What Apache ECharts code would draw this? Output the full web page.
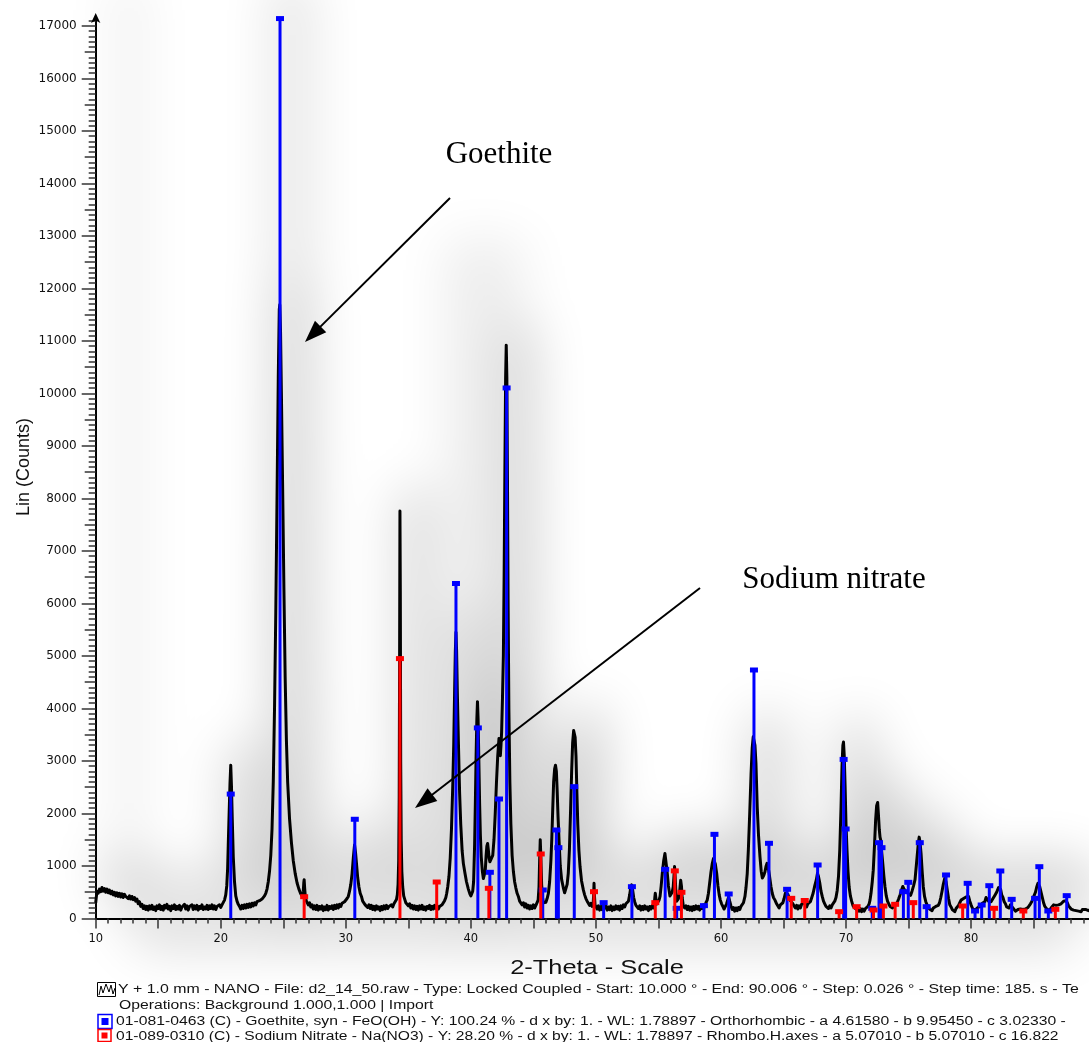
<!DOCTYPE html>
<html>
<head>
<meta charset="utf-8">
<script src="https://cdn.jsdelivr.net/npm/echarts@6/dist/echarts.min.js"></script>
<style>
  html, body { margin: 0; padding: 0; background: #ffffff; overflow: hidden; }
  #stage { position: relative; width: 1089px; height: 1042px; overflow: hidden; background: #ffffff; }
  #haze { position: absolute; left: 0; top: 0; width: 1089px; height: 1042px;
          filter: blur(26px); opacity: 0.2; transform: translate(14px, -22px); }
  #chart { position: absolute; left: 0; top: 0; width: 1089px; height: 1042px; }
</style>
</head>
<body>
<div id="stage">
  <div id="haze"></div>
  <div id="chart"></div>
</div>
<script>
// Measured XRD scan: [2-theta (deg), counts]
const profile = [
  [10.0,300],[10.1,520],[10.2,480],[10.3,560],[10.4,510],[10.5,590],[10.6,520],[10.7,570],[10.8,500],[10.9,560],
  [11.0,490],[11.1,540],[11.2,470],[11.3,520],[11.4,450],[11.5,500],[11.6,430],[11.7,490],[11.8,420],[11.9,480],
  [12.0,410],[12.1,470],[12.2,400],[12.3,460],[12.4,420],[12.5,440],[12.6,380],[12.7,430],[12.8,370],[12.9,420],
  [13.0,360],[13.1,400],[13.2,330],[13.3,370],[13.4,280],[13.5,320],[13.6,230],[13.7,270],[13.8,190],[13.9,240],
  [14.0,170],[14.1,230],[14.2,160],[14.3,240],[14.4,180],[14.5,250],[14.6,170],[14.7,220],[14.8,150],[14.9,240],
  [15.0,190],[15.1,260],[15.2,170],[15.3,230],[15.4,160],[15.5,250],[15.6,200],[15.7,270],[15.8,180],[15.9,230],
  [16.0,150],[16.1,240],[16.2,190],[16.3,260],[16.4,170],[16.5,230],[16.6,180],[16.7,250],[16.8,160],[16.9,220],
  [17.0,190],[17.1,270],[17.2,180],[17.3,240],[17.4,160],[17.5,230],[17.6,200],[17.7,260],[17.8,170],[17.9,240],
  [18.0,180],[18.1,250],[18.2,160],[18.3,230],[18.4,190],[18.5,260],[18.6,170],[18.7,220],[18.8,180],[18.9,250],
  [19.0,170],[19.1,240],[19.2,190],[19.3,260],[19.4,180],[19.5,240],[19.6,170],[19.7,230],[19.8,200],[19.9,260],
  [20.0,210],[20.1,260],[20.2,290],[20.3,350],[20.4,450],[20.48,620],[20.55,950],[20.6,1400],[20.67,2000],[20.74,2580],
  [20.8,2920],[20.86,2500],[20.92,1900],[21.0,1180],[21.1,700],[21.2,430],[21.3,330],[21.4,270],[21.5,230],
  [21.6,180],[21.7,250],[21.8,190],[21.9,260],[22.0,200],[22.1,270],[22.2,210],[22.3,280],[22.4,220],[22.5,290],
  [22.6,240],[22.7,300],[22.8,260],[22.9,320],[23.0,290],[23.1,340],[23.2,320],[23.3,370],[23.4,380],[23.5,430],
  [23.6,480],[23.7,560],[23.8,700],[23.9,900],[24.0,1200],[24.1,1700],[24.2,2600],[24.3,4000],[24.4,5800],[24.5,8000],
  [24.6,10300],[24.68,11600],[24.72,11690],[24.78,11200],[24.85,10000],[24.95,8200],[25.05,6300],[25.15,4600],
  [25.25,3400],[25.35,2600],[25.5,1900],[25.65,1450],[25.8,1100],[25.95,860],[26.1,680],[26.25,560],[26.4,470],
  [26.52,420],[26.6,520],[26.64,680],[26.67,740],[26.71,580],[26.77,400],[26.85,330],[26.95,320],
  [27.0,260],[27.1,300],[27.2,220],[27.3,260],[27.4,180],[27.5,240],[27.6,170],[27.7,250],[27.8,160],[27.9,230],
  [28.0,180],[28.1,240],[28.2,150],[28.3,220],[28.4,170],[28.5,250],[28.6,160],[28.7,230],[28.8,190],[28.9,240],
  [29.0,170],[29.1,250],[29.2,190],[29.3,260],[29.4,200],[29.5,270],[29.6,230],[29.7,290],[29.8,260],[29.9,320],
  [30.0,300],[30.1,380],[30.2,420],[30.3,520],[30.4,650],[30.5,850],[30.6,1150],[30.7,1400],[30.78,1250],[30.87,1000],
  [30.95,780],[31.05,600],[31.15,480],[31.25,420],[31.35,330],[31.45,350],[31.55,260],[31.65,290],[31.75,210],[31.85,260],
  [31.95,190],[32.05,250],[32.15,170],[32.25,230],[32.35,160],[32.45,240],[32.55,180],[32.65,220],[32.75,150],[32.85,230],
  [32.95,170],[33.05,240],[33.15,180],[33.25,250],[33.35,190],[33.45,230],[33.55,200],[33.65,260],[33.75,220],[33.85,280],
  [33.95,270],[34.05,360],[34.12,450],[34.18,650],[34.23,1100],[34.27,2300],[34.3,4800],[34.33,7760],[34.36,6200],
  [34.39,3000],[34.43,1500],[34.48,900],[34.55,600],[34.63,430],[34.72,360],[34.8,300],[34.9,320],[35.0,240],
  [35.1,280],[35.2,200],[35.3,250],[35.4,180],[35.5,240],[35.6,170],[35.7,230],[35.8,160],[35.9,240],[36.0,180],
  [36.1,250],[36.2,170],[36.3,220],[36.4,160],[36.5,230],[36.6,190],[36.7,250],[36.8,170],[36.9,230],[37.0,180],
  [37.1,250],[37.2,190],[37.3,240],[37.4,180],[37.5,230],[37.6,210],[37.7,260],[37.8,270],[37.9,340],[38.0,400],
  [38.07,480],[38.15,600],[38.25,800],[38.35,1150],[38.45,1700],[38.55,2500],[38.63,3300],[38.7,4300],[38.76,5100],
  [38.81,5450],[38.86,5100],[38.92,4300],[39.0,3400],[39.1,2400],[39.19,1800],[39.3,1300],[39.4,1050],[39.53,860],
  [39.65,700],[39.8,560],[39.92,470],[40.0,430],[40.07,420],[40.15,520],[40.22,700],[40.3,1400],[40.36,2200],
  [40.42,3100],[40.48,3800],[40.53,4130],[40.58,3800],[40.64,3000],[40.7,2200],[40.76,1600],[40.83,1180],[40.92,900],
  [41.0,760],[41.07,740],[41.15,900],[41.22,1200],[41.28,1380],[41.34,1430],[41.4,1300],[41.46,1150],[41.52,1080],
  [41.6,1060],[41.67,1050],[41.75,1200],[41.85,1500],[41.95,2000],[42.05,2600],[42.15,3100],[42.25,3430],[42.31,3350],
  [42.36,3100],[42.41,3300],[42.46,3550],[42.53,4200],[42.6,5000],[42.66,6500],[42.72,8500],[42.78,10300],[42.83,10920],
  [42.88,10300],[42.93,8300],[42.98,6000],[43.04,4000],[43.12,2600],[43.2,1800],[43.3,1200],[43.4,900],[43.5,700],
  [43.6,580],[43.7,480],[43.8,420],[43.9,330],[44.0,350],[44.1,260],[44.2,300],[44.3,220],[44.4,280],[44.5,200],
  [44.6,250],[44.7,180],[44.8,240],[44.9,190],[45.0,260],[45.1,200],[45.2,250],[45.3,240],[45.38,350],[45.45,600],
  [45.5,1100],[45.55,1500],[45.6,1150],[45.66,650],[45.73,400],[45.8,300],[45.9,330],[46.0,310],[46.1,380],[46.2,480],
  [46.3,700],[46.4,1100],[46.47,1500],[46.55,2100],[46.62,2600],[46.7,2850],[46.77,2920],[46.84,2800],[46.9,2450],
  [46.97,1950],[47.05,1500],[47.15,1000],[47.26,740],[47.4,580],[47.5,490],[47.6,520],[47.7,650],[47.79,860],
  [47.88,1300],[47.98,2100],[48.06,2800],[48.14,3350],[48.22,3580],[48.28,3590],[48.34,3450],[48.41,3080],[48.48,2400],
  [48.55,1800],[48.64,1300],[48.73,990],[48.85,720],[49.0,540],[49.1,450],[49.2,380],[49.3,330],[49.4,300],[49.5,250],
  [49.6,290],[49.7,230],[49.78,280],[49.82,450],[49.85,670],[49.88,450],[49.93,260],[50.0,230],
  [50.1,180],[50.2,240],[50.3,160],[50.4,230],[50.5,170],[50.6,260],[50.7,200],[50.8,240],[50.9,160],[51.0,220],
  [51.1,170],[51.2,240],[51.3,150],[51.4,220],[51.5,170],[51.6,240],[51.7,180],[51.8,230],[51.9,160],[52.0,240],
  [52.1,190],[52.2,260],[52.3,220],[52.4,280],[52.5,260],[52.6,330],[52.7,450],[52.78,580],[52.86,640],[52.94,540],
  [53.02,400],[53.1,320],[53.2,250],[53.3,280],[53.4,190],[53.5,240],[53.6,160],[53.7,230],[53.8,170],[53.9,240],
  [54.0,180],[54.1,220],[54.2,150],[54.3,230],[54.4,180],[54.5,240],[54.6,200],[54.67,280],[54.72,420],[54.75,480],
  [54.79,400],[54.85,270],[54.95,300],[55.05,350],[55.13,420],[55.22,620],[55.31,860],[55.42,1100],[55.52,1240],
  [55.6,1080],[55.71,860],[55.8,620],[55.92,430],[56.0,420],[56.1,500],[56.18,600],[56.24,800],[56.29,990],[56.34,800],
  [56.4,480],[56.46,330],[56.52,300],[56.6,380],[56.7,520],[56.78,730],[56.84,620],[56.9,400],[56.99,240],
  [57.1,200],[57.2,240],[57.3,170],[57.4,230],[57.5,160],[57.6,220],[57.7,150],[57.8,230],[57.9,170],[58.0,240],
  [58.1,180],[58.2,230],[58.3,160],[58.4,240],[58.5,190],[58.6,260],[58.7,220],[58.8,300],[58.9,350],[59.0,480],
  [59.1,680],[59.2,880],[59.3,1040],[59.4,1140],[59.47,1150],[59.55,1040],[59.66,860],[59.76,620],[59.86,450],[59.95,350],
  [60.05,280],[60.15,230],[60.25,180],[60.35,200],[60.45,280],[60.55,360],[60.62,410],[60.7,330],[60.8,240],[60.9,170],
  [61.0,210],[61.1,140],[61.2,200],[61.3,150],[61.4,210],[61.5,170],[61.6,230],[61.7,250],[61.8,300],[61.92,420],
  [62.0,580],[62.1,850],[62.19,1300],[62.3,2000],[62.41,2770],[62.5,3250],[62.58,3460],[62.65,3480],[62.72,3300],
  [62.8,2950],[62.9,2130],[63.0,1600],[63.12,1180],[63.22,900],[63.31,770],[63.42,820],[63.52,890],[63.6,990],
  [63.68,1050],[63.76,1000],[63.86,850],[64.0,610],[64.1,480],[64.2,400],[64.32,350],[64.45,280],[64.55,250],[64.65,200],
  [64.75,260],[64.85,230],[64.95,300],[65.05,380],[65.15,480],[65.25,510],[65.35,460],[65.45,400],[65.55,340],[65.65,360],
  [65.75,280],[65.85,240],[65.95,200],[66.05,250],[66.15,180],[66.25,240],[66.35,200],[66.45,270],[66.55,240],[66.65,300],
  [66.75,270],[66.85,220],[66.95,280],[67.05,260],[67.15,320],[67.25,390],[67.37,480],[67.5,620],[67.63,740],[67.72,860],
  [67.8,800],[67.9,680],[68.0,520],[68.1,420],[68.2,330],[68.3,280],[68.4,230],[68.5,250],[68.6,190],[68.7,240],
  [68.8,200],[68.9,260],[69.0,290],[69.1,330],[69.2,400],[69.3,540],[69.4,800],[69.5,1300],[69.6,2100],[69.68,2900],
  [69.75,3300],[69.8,3360],[69.86,3100],[69.93,2500],[70.0,1800],[70.08,1300],[70.16,900],[70.25,600],[70.35,430],
  [70.45,330],[70.55,250],[70.65,210],[70.75,240],[70.85,170],[70.95,200],[71.05,140],[71.15,190],[71.25,130],[71.35,180],
  [71.45,140],[71.55,190],[71.65,160],[71.75,230],[71.85,280],[71.92,350],[72.0,480],[72.1,700],[72.18,920],[72.28,1400],
  [72.37,1880],[72.45,2150],[72.53,2210],[72.6,1950],[72.66,1700],[72.72,1550],[72.78,1490],[72.86,1250],[72.94,1050],
  [73.03,800],[73.12,600],[73.22,430],[73.32,330],[73.42,280],[73.52,230],[73.62,260],[73.72,200],[73.82,240],[73.92,220],
  [74.02,280],[74.12,320],[74.22,380],[74.32,450],[74.42,530],[74.54,610],[74.64,560],[74.74,520],[74.86,540],[74.96,480],
  [75.06,460],[75.16,440],[75.28,520],[75.4,620],[75.52,740],[75.62,1000],[75.71,1240],[75.79,1450],[75.85,1550],
  [75.92,1450],[76.0,1240],[76.09,900],[76.18,610],[76.28,420],[76.38,320],[76.48,260],[76.58,220],[76.68,180],[76.78,210],
  [76.88,150],[76.98,200],[77.08,170],[77.18,230],[77.28,200],[77.38,250],[77.48,300],[77.58,400],[77.68,520],[77.78,650],
  [77.9,770],[78.0,700],[78.1,540],[78.2,380],[78.3,260],[78.4,220],[78.5,170],[78.6,200],[78.7,130],[78.8,190],
  [78.9,170],[79.0,250],[79.1,300],[79.2,350],[79.3,330],[79.4,380],[79.51,360],[79.6,410],[79.7,390],[79.8,420],
  [79.9,330],[80.0,260],[80.1,200],[80.2,160],[80.3,130],[80.4,180],[80.5,150],[80.6,220],[80.7,250],[80.8,230],
  [80.9,290],[81.0,260],[81.1,320],[81.2,400],[81.3,380],[81.4,330],[81.5,360],[81.6,320],[81.7,350],[81.8,400],
  [81.9,440],[82.0,480],[82.1,530],[82.2,590],[82.28,606],[82.36,560],[82.45,450],[82.55,400],[82.65,320],[82.75,280],
  [82.85,220],[82.95,240],[83.05,200],[83.15,260],[83.25,250],[83.35,200],[83.45,170],[83.55,140],[83.65,130],[83.75,170],
  [83.85,140],[83.95,180],[84.05,150],[84.15,170],[84.25,140],[84.35,180],[84.45,160],[84.55,210],[84.65,240],[84.75,280],
  [84.85,320],[84.95,380],[85.05,440],[85.15,500],[85.25,600],[85.35,670],[85.42,660],[85.5,600],[85.6,500],[85.7,400],
  [85.8,300],[85.9,230],[86.0,200],[86.1,170],[86.2,200],[86.3,160],[86.4,200],[86.5,220],[86.6,260],[86.7,290],
  [86.8,250],[86.9,220],[87.0,260],[87.1,230],[87.2,280],[87.3,310],[87.4,330],[87.5,350],[87.6,340],[87.7,300],
  [87.8,240],[87.9,220],[88.0,180],[88.1,210],[88.2,160],[88.3,190],[88.4,150],[88.5,180],[88.6,140],[88.7,170],
  [88.8,130],[88.9,170],[89.0,140],[89.2,170],[89.4,150],[89.6,180],[89.8,150],[90.0,170]
];

// Reference pattern 01-081-0463 Goethite: [2-theta, scaled intensity]
const goethiteSticks = [
  [20.80,2370],[24.74,17140],[30.72,1890],[38.81,6380],[40.56,3630],[41.52,880],[42.25,2276],[42.86,10105],
  [45.75,543],[46.84,1686],[47.00,1349],[48.27,2511],[50.62,302],[52.88,606],[55.54,937],[56.46,194],
  [58.64,245],[59.48,1603],[60.62,467],[62.64,4733],[63.84,1432],[65.29,556],[67.73,1019],[69.81,3030],
  [69.97,1705],[72.10,194],[72.64,1444],[72.84,1349],[74.59,511],[74.98,689],[75.90,1444],[76.45,225],
  [78.00,829],[79.73,670],[80.32,143],[80.85,257],[81.46,625],[82.34,905],[83.25,365],[85.12,384],
  [85.46,987],[86.18,143],[87.65,435]
];

// Reference pattern 01-089-0310 Sodium Nitrate: [2-theta, scaled intensity]
const nitrateSticks = [
  [26.67,415],[34.33,4950],[37.27,695],[41.44,575],[45.59,1229],[49.85,511],[54.75,302],[56.31,907],
  [56.84,499],[65.62,384],[66.70,343],[69.45,130],[70.85,225],[72.20,162],[72.99,238],[73.93,270],
  [75.38,302],[79.33,238],[81.84,194],[84.18,143],[86.74,175]
];

// Axis ranges and tick positions
const X_MIN = 10, X_MAX = 90, Y_MIN = 0, Y_MAX = 17170;
const xLabelValues = [10, 20, 30, 40, 50, 60, 70, 80];
const xTickValues = [];   for (let v = 10; v <= 90; v += 5) xTickValues.push(v);
const xMinorValues = [];  for (let v = 10; v <= 90; v += 1) xMinorValues.push(v);
const yLabelValues = [];  for (let v = 0; v <= 17000; v += 1000) yLabelValues.push(v);
const yMidValues = [];    for (let v = 0; v <= 17000; v += 500) yMidValues.push(v);
const yMinorValues = [];  for (let v = 0; v <= 17100; v += 100) yMinorValues.push(v);

const legendLines = [
  'Y + 1.0 mm - NANO - File: d2_14_50.raw - Type: Locked Coupled - Start: 10.000 \u00b0 - End: 90.006 \u00b0 - Step: 0.026 \u00b0 - Step time: 185. s - Te',
  'Operations: Background 1.000,1.000 | Import',
  '01-081-0463 (C) - Goethite, syn - FeO(OH) - Y: 100.24 % - d x by: 1. - WL: 1.78897 - Orthorhombic - a 4.61580 - b 9.95450 - c 3.02330 -',
  '01-089-0310 (C) - Sodium Nitrate - Na(NO3) - Y: 28.20 % - d x by: 1. - WL: 1.78897 - Rhombo.H.axes - a 5.07010 - b 5.07010 - c 16.822'
];

const SANS = '"Liberation Sans", Arial, sans-serif';
const WIDE = '"DejaVu Sans", Verdana, sans-serif';
const SERIF = '"Liberation Serif", "Times New Roman", serif';

const PLOT = { left: 95.7, top: 17, width: 1000.4, height: 901.5 };

function stickRenderer(color) {
  return function (params, api) {
    const top = api.coord([api.value(0), api.value(1)]);
    const base = api.coord([api.value(0), 0]);
    return {
      type: 'group',
      children: [
        { type: 'rect', shape: { x: top[0] - 1.5, y: top[1], width: 3, height: base[1] - top[1] }, style: { fill: color } },
        { type: 'rect', shape: { x: top[0] - 4, y: top[1] - 2.5, width: 8, height: 5 }, style: { fill: color } }
      ]
    };
  };
}

function arrowGraphic(x1, y1, x2, y2) {
  const dx = x2 - x1, dy = y2 - y1, len = Math.hypot(dx, dy);
  const ux = dx / len, uy = dy / len, headLen = 22, headHalf = 8;
  const bx = x2 - ux * headLen, by = y2 - uy * headLen;
  return [
    { type: 'line', z: 100, shape: { x1: x1, y1: y1, x2: bx + ux * 2, y2: by + uy * 2 }, style: { stroke: '#000', lineWidth: 2 } },
    { type: 'polygon', z: 100, shape: { points: [[x2, y2], [bx - uy * headHalf, by + ux * headHalf], [bx + uy * headHalf, by - ux * headHalf]] }, style: { fill: '#000' } }
  ];
}

function stretchedText(x, y, text, font, stretch, align) {
  return { type: 'text', z: 100, x: x, y: y, scaleX: stretch,
           style: { text: text, font: font, fill: '#111', align: align || 'left', verticalAlign: 'middle' } };
}

const tickStyle = { color: '#333', width: 1.5 };
function yAxisBase(extra) {
  return Object.assign({
    type: 'value', gridIndex: 0, position: 'left', offset: 0, min: Y_MIN, max: Y_MAX,
    splitLine: { show: false }, axisLine: { show: false }, axisLabel: { show: false }
  }, extra);
}

// Soft grey haze behind the scan (rendered separately and blurred by CSS)
const haze = echarts.init(document.getElementById('haze'), null, { renderer: 'canvas' });
haze.setOption({
  animation: false,
  grid: Object.assign({ outerBoundsMode: 'none', containLabel: false }, PLOT),
  xAxis: { type: 'value', min: X_MIN, max: X_MAX, show: false },
  yAxis: { type: 'value', min: Y_MIN, max: Y_MAX, show: false },
  series: [{
    type: 'line', data: profile, showSymbol: false, clip: false, silent: true,
    lineStyle: { color: '#000', width: 26 },
    areaStyle: { color: '#000', opacity: 1 }
  }],
  graphic: {
    elements: [
      { type: 'rect', shape: { x: 100, y: 0, width: 30, height: 940 }, style: { fill: 'rgba(0,0,0,0.35)' } },
      { type: 'rect', shape: { x: 258, y: 0, width: 40, height: 940 }, style: { fill: 'rgba(0,0,0,0.55)' } },
      { type: 'rect', shape: { x: 430, y: 260, width: 80, height: 680 }, style: { fill: 'rgba(0,0,0,0.35)' } },
      { type: 'rect', shape: { x: 120, y: 938, width: 940, height: 30 }, style: { fill: 'rgba(0,0,0,0.85)' } }
    ]
  }
});

const chart = echarts.init(document.getElementById('chart'), null, { renderer: 'canvas' });
chart.setOption({
  animation: false,
  backgroundColor: 'transparent',
  grid: Object.assign({ outerBoundsMode: 'none', containLabel: false }, PLOT),
  xAxis: [
    {
      type: 'value', position: 'bottom', min: X_MIN, max: X_MAX,
      axisLine: { show: true, lineStyle: { color: '#000', width: 2 } },
      axisTick: { show: true, customValues: xTickValues, length: 10, lineStyle: tickStyle },
      axisLabel: { show: true, customValues: xLabelValues, margin: 15, fontFamily: WIDE, fontSize: 11.5, color: '#111' },
      splitLine: { show: false }
    },
    {
      type: 'value', position: 'bottom', offset: 0, min: X_MIN, max: X_MAX,
      axisLine: { show: false }, axisLabel: { show: false }, splitLine: { show: false },
      axisTick: { show: true, customValues: xMinorValues, length: 5, lineStyle: tickStyle }
    }
  ],
  yAxis: [
    yAxisBase({
      axisLine: { show: true, symbol: ['none', 'arrow'], symbolSize: [7, 10], symbolOffset: [0, 4], lineStyle: { color: '#000', width: 2 } },
      axisTick: { show: true, customValues: yLabelValues, length: 14, lineStyle: tickStyle },
      axisLabel: { show: true, customValues: yLabelValues, margin: 19, fontFamily: WIDE, fontSize: 12, color: '#111',
                   formatter: function (v) { return String(v); } }
    }),
    yAxisBase({ axisTick: { show: true, customValues: yMidValues, length: 11, lineStyle: tickStyle } }),
    yAxisBase({ axisTick: { show: true, customValues: yMinorValues, length: 7, lineStyle: tickStyle } })
  ],
  series: [
    {
      name: 'scan', type: 'line', data: profile, showSymbol: false, silent: true, z: 3,
      lineStyle: { color: '#000', width: 3, join: 'round' }
    },
    {
      name: 'Goethite', type: 'custom', coordinateSystem: 'cartesian2d',
      data: goethiteSticks, encode: { x: 0, y: 1 }, renderItem: stickRenderer('#0000ff'), z: 5, silent: true
    },
    {
      name: 'Sodium nitrate', type: 'custom', coordinateSystem: 'cartesian2d',
      data: nitrateSticks, encode: { x: 0, y: 1 }, renderItem: stickRenderer('#ff0000'), z: 6, silent: true
    }
  ],
  graphic: {
    elements: [
      { type: 'text', z: 100, x: 24, y: 467, rotation: Math.PI / 2,
        style: { text: 'Lin (Counts)', font: '18px ' + SANS, fill: '#111', align: 'center', verticalAlign: 'middle' } },
      stretchedText(597, 968, '2-Theta - Scale', '21px ' + SANS, 1.21, 'center'),
      { type: 'text', z: 100, x: 499, y: 155,
        style: { text: 'Goethite', font: '31px ' + SERIF, fill: '#000', align: 'center', verticalAlign: 'middle' } },
      { type: 'text', z: 100, x: 834, y: 580,
        style: { text: 'Sodium nitrate', font: '31px ' + SERIF, fill: '#000', align: 'center', verticalAlign: 'middle' } },
      ...arrowGraphic(450, 198, 305, 342),
      ...arrowGraphic(700, 588, 415, 808),
      // legend: measured scan
      { type: 'rect', z: 100, shape: { x: 97.5, y: 982.5, width: 18, height: 14 }, style: { fill: '#fff', stroke: '#000', lineWidth: 1 } },
      { type: 'polyline', z: 101, shape: { points: [[99, 995], [101, 986], [103, 993], [106, 984], [109, 992], [111, 985], [113, 994], [115, 988]] }, style: { stroke: '#000', lineWidth: 1, fill: null } },
      stretchedText(118, 989.5, legendLines[0], '12px ' + SANS, 1.325),
      stretchedText(119, 1005.5, legendLines[1], '12px ' + SANS, 1.31),
      // legend: goethite pattern
      { type: 'rect', z: 100, shape: { x: 98, y: 1014.5, width: 14, height: 14 }, style: { fill: '#fff', stroke: '#0000ff', lineWidth: 1.5 } },
      { type: 'rect', z: 101, shape: { x: 101.5, y: 1018, width: 7, height: 7 }, style: { fill: '#0000ff' } },
      stretchedText(116, 1021.5, legendLines[2], '12px ' + SANS, 1.31),
      // legend: sodium nitrate pattern
      { type: 'rect', z: 100, shape: { x: 98, y: 1029.5, width: 13, height: 12 }, style: { fill: '#fff', stroke: '#ff0000', lineWidth: 1.5 } },
      { type: 'rect', z: 101, shape: { x: 101.5, y: 1032.5, width: 6, height: 6 }, style: { fill: '#ff0000' } },
      stretchedText(116, 1036.5, legendLines[3], '12px ' + SANS, 1.3)
    ]
  }
});
</script>
</body>
</html>
